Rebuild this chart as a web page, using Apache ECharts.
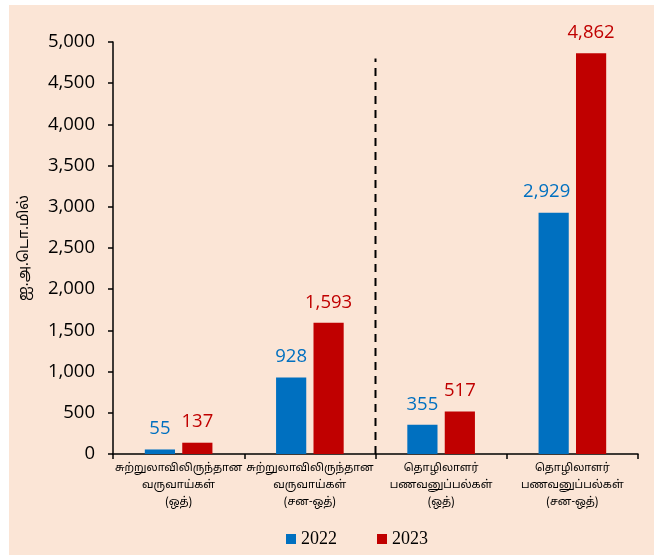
<!DOCTYPE html>
<html>
<head>
<meta charset="utf-8">
<script src="https://cdn.jsdelivr.net/npm/echarts@6/dist/echarts.min.js"></script>
<style>
html,body{margin:0;padding:0;background:#ffffff;}
#chart{position:absolute;left:9px;top:5px;width:645px;height:550px;background:#FBE5D6;}
</style>
</head>
<body>
<div id="chart"></div>
<script>
const categories = [
  "சுற்றுலாவிலிருந்தான\nவருவாய்கள்\n(ஒத்)",
  "சுற்றுலாவிலிருந்தான\nவருவாய்கள்\n(சன-ஒத்)",
  "தொழிலாளர்\nபணவனுப்பல்கள்\n(ஒத்)",
  "தொழிலாளர்\nபணவனுப்பல்கள்\n(சன-ஒத்)"
];
const seriesNames = ["2022", "2023"];
const values2022 = [55, 928, 355, 2929];
const values2023 = [137, 1593, 517, 4862];
const yTicks = [0, 500, 1000, 1500, 2000, 2500, 3000, 3500, 4000, 4500, 5000];
const yAxisTitle = "ஐ.அ.டொ.மில்";
const separatorAt = 2;       // boundary between 2nd and 3rd category
const separatorTop = 4800;

const numFont = "'Open Sans', 'Liberation Sans', sans-serif";
const tamilFont = "'Noto Sans Tamil', 'Lohit Tamil', 'Latha', 'Noto Sans', sans-serif";
const fmt = v => v.toLocaleString('en-US');

const chart = echarts.init(document.getElementById('chart'));
chart.setOption({
  backgroundColor: 'transparent',
  animation: false,
  grid: { left: 104, right: 16, top: 37, bottom: 101, containLabel: false },
  legend: {
    data: seriesNames,
    bottom: 2,
    left: 272,
    itemWidth: 10,
    itemHeight: 10,
    itemGap: 40,
    icon: 'rect',
    textStyle: { fontFamily: "'Liberation Serif', 'DejaVu Serif', serif", fontSize: 18, color: '#000' }
  },
  xAxis: [
    {
      type: 'category',
      data: categories,
      axisLine: { lineStyle: { color: '#000', width: 1.5 } },
      axisTick: { show: true, length: 5, lineStyle: { color: '#000', width: 1.5 } },
      axisLabel: { interval: 0, margin: 6, color: '#000', fontFamily: tamilFont, fontSize: 11, lineHeight: 17 },
      splitLine: { show: false }
    },
    { type: 'value', min: 0, max: 4, show: false }
  ],
  yAxis: {
    type: 'value',
    min: yTicks[0],
    max: yTicks[yTicks.length - 1],
    interval: 500,
    name: yAxisTitle,
    nameLocation: 'middle',
    nameGap: 80,
    nameTextStyle: { fontFamily: tamilFont, fontSize: 14.5, color: '#000' },
    axisLine: { show: true, lineStyle: { color: '#000', width: 1.5 } },
    axisTick: { show: true, length: 5, lineStyle: { color: '#000', width: 1.5 } },
    axisLabel: { margin: 18, color: '#000', fontFamily: numFont, fontSize: 18.5, formatter: v => fmt(v) },
    splitLine: { show: false }
  },
  series: [
    {
      name: seriesNames[0], type: 'bar', data: values2022.map((v, i) => i === 3 ? { value: v, label: { offset: [-7, 0] } } : v),
      barWidth: '23%', barGap: '24%',
      itemStyle: { color: '#0070C0' },
      label: { show: true, position: 'top', distance: 11, color: '#0070C0', fontFamily: numFont, fontSize: 18.5, formatter: p => fmt(p.value) }
    },
    {
      name: seriesNames[1], type: 'bar', data: values2023,
      barWidth: '23%', barGap: '24%',
      itemStyle: { color: '#C00000' },
      label: { show: true, position: 'top', distance: 11, color: '#C00000', fontFamily: numFont, fontSize: 18.5, formatter: p => fmt(p.value) }
    },
    {
      name: 'separator', type: 'line', xAxisIndex: 1, yAxisIndex: 0,
      data: [[separatorAt, 0], [separatorAt, separatorTop]],
      symbol: 'none', silent: true,
      lineStyle: { color: '#000', width: 2, type: [8, 6] }
    }
  ]
});
</script>
</body>
</html>
